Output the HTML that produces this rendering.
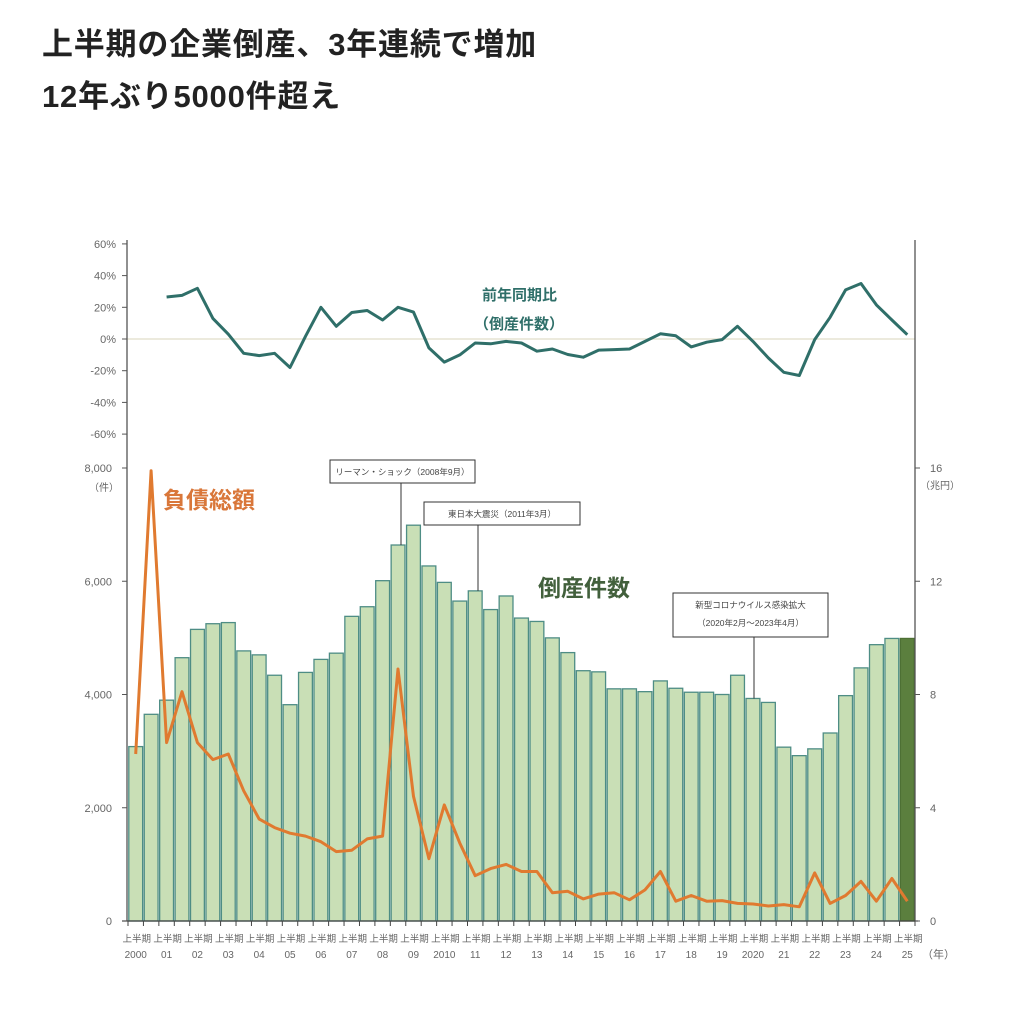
<!DOCTYPE html>
<html><head><meta charset="utf-8">
<style>
html,body{margin:0;padding:0;background:#fff;}
body{width:1024px;height:1009px;overflow:hidden;font-family:"Liberation Sans","Noto Sans CJK JP",sans-serif;}
.title{position:absolute;left:42px;font-size:31px;line-height:36px;font-weight:bold;color:#222;letter-spacing:0.8px;}
</style></head>
<body>
<div class="title" style="top:27px;">上半期の企業倒産、3年連続で増加</div>
<div class="title" style="top:79px;">12年ぶり5000件超え</div>
<svg id="chart" width="1024" height="1009" style="position:absolute;left:0;top:0" xmlns="http://www.w3.org/2000/svg" font-family="Liberation Sans, Noto Sans CJK JP, sans-serif"></svg>
<script>
const years = ["2000","01","02","03","04","05","06","07","08","09","2010","11","12","13","14","15","16","17","18","19","2020","21","22","23","24","25"];
const counts = [3080,3650,3900,4650,5150,5250,5270,4770,4700,4340,3820,4390,4620,4730,5380,5550,6010,6640,6990,6270,5980,5650,5830,5500,5740,5350,5290,5000,4740,4420,4400,4100,4100,4050,4240,4110,4040,4040,4000,4340,3930,3860,3070,2920,3040,3320,3980,4470,4880,4990,4990];
const debt = [5.9,15.9,6.3,8.1,6.3,5.7,5.9,4.6,3.6,3.3,3.1,3.0,2.8,2.45,2.5,2.9,3.0,8.9,4.4,2.2,4.1,2.75,1.6,1.85,2.0,1.75,1.75,1.0,1.05,0.78,0.95,1.0,0.75,1.1,1.75,0.7,0.9,0.7,0.72,0.62,0.6,0.53,0.58,0.5,1.7,0.62,0.9,1.4,0.7,1.5,0.7];
const yoy = [null,null,26.5,27.5,32,13,3,-9,-10.5,-9,-18,1.7,20,8,16.7,18,12,20,17,-5.6,-14.6,-10,-2.5,-3,-1.5,-2.5,-7.7,-6.3,-9.8,-11.5,-7,-6.7,-6.3,-1.5,3.3,2,-5,-2,-0.4,8,-1.5,-12,-21,-23,-0.4,13.7,31,35,21.5,12,2.7];
const leftTicks = [0,2000,4000,6000,8000];
const leftTickLabels = ["0","2,000","4,000","6,000","8,000"];
const rightTicks = [0,4,8,12,16];
const pctTicks = [60,40,20,0,-20,-40,-60];

const svg = document.getElementById('chart');
const NS = 'http://www.w3.org/2000/svg';
function mk(tag, attrs, parent){const e=document.createElementNS(NS,tag);for(const k in attrs)e.setAttribute(k,attrs[k]);(parent||svg).appendChild(e);return e;}
const X0=128, X1=915, Y0=921, YTOP=468;
const step=(X1-X0)/counts.length;
const xC=i=>X0+step*(i+0.5);
const yL=v=>Y0-(Y0-YTOP)*v/8000;
const yR=v=>Y0-(Y0-YTOP)*v/16;
const yP=v=>339-v*1.585;

let zl=mk('line',{x1:127,x2:915,y1:yP(0),y2:yP(0),stroke:'#e6e3d2','stroke-width':1.5});



counts.forEach((v,i)=>{
  const r=mk('rect',{x:X0+step*i+0.8,y:yL(v),width:step-1.6,height:Y0-yL(v),fill:i===counts.length-1?'#5b7f3e':'#c9dfb6',stroke:i===counts.length-1?'#4d7034':'#4e8d85','stroke-width':1.3});
  
  
});

let a=mk('line',{x1:127,x2:127,y1:240,y2:Y0,stroke:'#555','stroke-width':1.3});


a=mk('line',{x1:915,x2:915,y1:240,y2:Y0,stroke:'#555','stroke-width':1.3});


a=mk('line',{x1:122,x2:918,y1:Y0,y2:Y0,stroke:'#444','stroke-width':1.3});


for(let i=0;i<=counts.length;i++){mk('line',{x1:X0+step*i,x2:X0+step*i,y1:Y0,y2:Y0+5,stroke:'#444','stroke-width':1});}

leftTicks.forEach((v,i)=>{
  mk('line',{x1:122,x2:127,y1:yL(v),y2:yL(v),stroke:'#555'});
  const t=mk('text',{x:112,y:yL(v)+4,'text-anchor':'end','font-size':11,fill:'#666'});t.textContent=leftTickLabels[i];
  
  
});
let u=mk('text',{x:104,y:491,'text-anchor':'middle','font-size':10,fill:'#666'});u.textContent='（件）';


rightTicks.forEach(v=>{
  mk('line',{x1:915,x2:920,y1:yR(v),y2:yR(v),stroke:'#555'});
  const t=mk('text',{x:930,y:yR(v)+4,'font-size':11,fill:'#666'});t.textContent=String(v);
  
  
});
u=mk('text',{x:920,y:489,'font-size':10,fill:'#666'});u.textContent='（兆円）';


pctTicks.forEach(v=>{
  mk('line',{x1:122,x2:127,y1:yP(v),y2:yP(v),stroke:'#555'});
  const t=mk('text',{x:116,y:yP(v)+4,'text-anchor':'end','font-size':11,fill:'#666'});t.textContent=v+'%';
  
  
});

years.forEach((y,j)=>{
  const cx=xC(j*2);
  const t1=mk('text',{x:cx+1,y:942,'text-anchor':'middle','font-size':9.5,fill:'#666'});t1.textContent='上半期';
  
  
  const t2=mk('text',{x:cx,y:958,'text-anchor':'middle','font-size':10,fill:'#666'});t2.textContent=y;
  
  
});
u=mk('text',{x:922,y:958,'font-size':11,fill:'#666'});u.textContent='（年）';



let d=debt.map((v,i)=>(i?'L':'M')+xC(i).toFixed(1)+','+yR(v).toFixed(1)).join('');
let p=mk('path',{d:d,fill:'none',stroke:'#e07a30','stroke-width':3,'stroke-linejoin':'round'});



let first=true;d='';
yoy.forEach((v,i)=>{if(v===null)return;d+=(first?'M':'L')+xC(i).toFixed(1)+','+yP(v).toFixed(1);first=false;});
p=mk('path',{d:d,fill:'none',stroke:'#2f6f69','stroke-width':3,'stroke-linejoin':'round'});



function label(x,y,txt,size,color,name,weight){const t=mk('text',{x:x,y:y,'font-size':size,fill:color,'font-weight':weight||'bold'});t.textContent=txt;return t;}
label(163,508,'負債総額',23,'#d9773a','debt-label');
label(538,596,'倒産件数',23,'#42603c','count-label');
label(482,300,'前年同期比',15,'#2f6f69','yoy-label');
label(474,329,'（倒産件数）',15,'#2f6f69','yoy-sublabel');

function box(x,y,w,h,lines,lx,ly2,name){
  const g=mk('g',{});
  
  
  mk('line',{x1:lx,x2:lx,y1:y+h,y2:ly2,stroke:'#333','stroke-width':1},g);
  mk('rect',{x:x,y:y,width:w,height:h,fill:'#fff',stroke:'#333','stroke-width':1},g);
  lines.forEach((l,i)=>{const t=mk('text',{x:x+w/2,y:y+15+i*18,'text-anchor':'middle','font-size':8.5,fill:'#444'},g);t.textContent=l;});
}
box(330,460,145,23,['リーマン・ショック（2008年9月）'],401,yL(counts[17]),'lehman-annotation');
box(424,502,156,23,['東日本大震災（2011年3月）'],478,yL(counts[22]),'earthquake-annotation');
box(673,593,155,44,['新型コロナウイルス感染拡大','（2020年2月～2023年4月）'],754,yL(counts[40]),'covid-annotation');
</script>
</body></html>
